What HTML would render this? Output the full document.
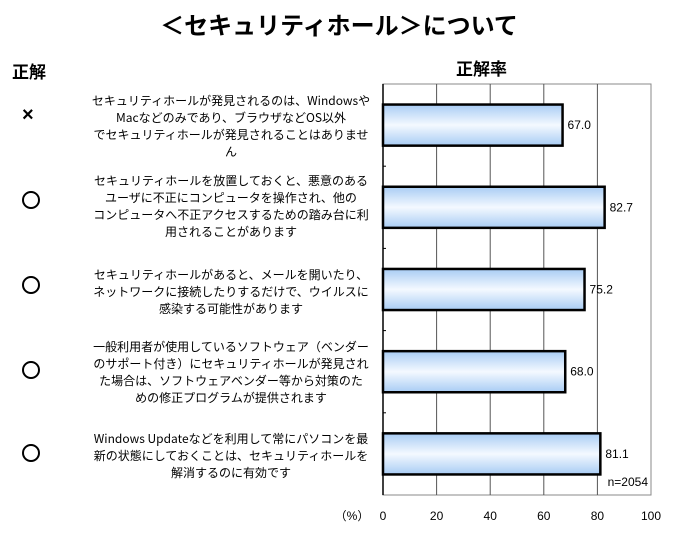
<!DOCTYPE html>
<html><head><meta charset="utf-8">
<style>
body{margin:0;background:#fff;width:678px;height:533px;overflow:hidden;font-family:"Liberation Sans","Noto Sans CJK JP",sans-serif;}
.t{position:absolute;color:#000;}
.lab{position:absolute;left:88px;width:286px;font-size:12px;line-height:17px;text-align:center;font-family:"Noto Sans CJK JP",sans-serif;}
.mk{position:absolute;font-size:20px;}
.ci{position:absolute;left:22px;width:14px;height:14px;border:2px solid #000;border-radius:50%;}
</style></head><body>
<div class="t" style="left:0;width:678px;top:6px;text-align:center;font-size:24px;font-weight:bold;font-family:'Noto Sans CJK JP',sans-serif;">＜セキュリティホール＞について</div>
<div class="t" style="left:12px;top:58px;font-size:17px;font-weight:bold;font-family:'Noto Sans CJK JP',sans-serif;">正解</div>
<div class="t" style="left:456px;top:55px;font-size:17px;font-weight:bold;font-family:'Noto Sans CJK JP',sans-serif;">正解率</div>

<div class="mk" style="top:104px;left:22px;font-weight:bold;">×</div>
<div class="ci" style="top:191px;"></div>
<div class="ci" style="top:276px;"></div>
<div class="ci" style="top:361px;"></div>
<div class="ci" style="top:444px;"></div>

<div class="lab" style="top:92px;">セキュリティホールが発見されるのは、Windowsや<br>Macなどのみであり、ブラウザなどOS以外<br>でセキュリティホールが発見されることはありませ<br>ん</div>
<div class="lab" style="top:172px;">セキュリティホールを放置しておくと、悪意のある<br>ユーザに不正にコンピュータを操作され、他の<br>コンピュータへ不正アクセスするための踏み台に利<br>用されることがあります</div>
<div class="lab" style="top:266px;">セキュリティホールがあると、メールを開いたり、<br>ネットワークに接続したりするだけで、ウイルスに<br>感染する可能性があります</div>
<div class="lab" style="top:338px;">一般利用者が使用しているソフトウェア（ベンダー<br>のサポート付き）にセキュリティホールが発見され<br>た場合は、ソフトウェアベンダー等から対策のた<br>めの修正プログラムが提供されます</div>
<div class="lab" style="top:430px;">Windows Updateなどを利用して常にパソコンを最<br>新の状態にしておくことは、セキュリティホールを<br>解消するのに有効です</div>

<svg id="chart" width="678" height="533" style="position:absolute;left:0;top:0">
<defs><linearGradient id="g" x1="0" y1="0" x2="0" y2="1">
<stop offset="0" stop-color="#a8ccf4"/><stop offset="0.5" stop-color="#f4f9ff"/><stop offset="1" stop-color="#a8ccf4"/></linearGradient></defs>
</svg>
<script>
const categories=["s1","s2","s3","s4","s5"];
const values=[67.0,82.7,75.2,68.0,81.1];
const ticks=[0,20,40,60,80,100];
const svg=document.getElementById('chart');const NS='http://www.w3.org/2000/svg';
const L=383,R=651,T=84,B=495;
const x=v=>L+(R-L)*v/100;
const band=(B-T)/categories.length;
const y=i=>T+band*i;
function mk(tag,a){const e=document.createElementNS(NS,tag);for(const k in a)e.setAttribute(k,a[k]);svg.appendChild(e);return e;}
let e=mk('rect',{x:L,y:T,width:R-L,height:B-T,fill:'none',stroke:'#888','stroke-width':1});


ticks.forEach(t=>{
 if(t>0&&t<100){let g=mk('line',{x1:x(t),x2:x(t),y1:T,y2:B,stroke:'#555','stroke-width':1});
 
 }
 let l=mk('text',{x:x(t),y:520,'text-anchor':'middle','font-size':12,'font-family':'Liberation Sans,sans-serif'});l.textContent=t;
 
 
});
let a=mk('line',{x1:L,x2:L,y1:T,y2:B,stroke:'#000','stroke-width':1.5});


for(let i=1;i<categories.length;i++){let tk=mk('line',{x1:L,x2:L+3,y1:y(i),y2:y(i),stroke:'#000'});

}
let pu=mk('text',{x:352,y:520,'text-anchor':'middle','font-size':12,'font-family':'Liberation Sans,sans-serif'});pu.textContent='（%）';


values.forEach((v,i)=>{
 const by=y(i)+band/4,bh=band/2;
 let r=mk('rect',{x:L,y:by,width:x(v)-L,height:bh,fill:'url(#g)',stroke:'#000','stroke-width':2.5});
 
 
 let tx=mk('text',{x:x(v)+5,y:by+bh/2+4,'font-size':12,'font-family':'Liberation Sans,sans-serif'});tx.textContent=v.toFixed(1);
 
 
});
let n=mk('text',{x:R-3,y:B-9,'text-anchor':'end','font-size':12,'font-family':'Liberation Sans,sans-serif'});n.textContent='n=2054';


</script>
</body></html>
